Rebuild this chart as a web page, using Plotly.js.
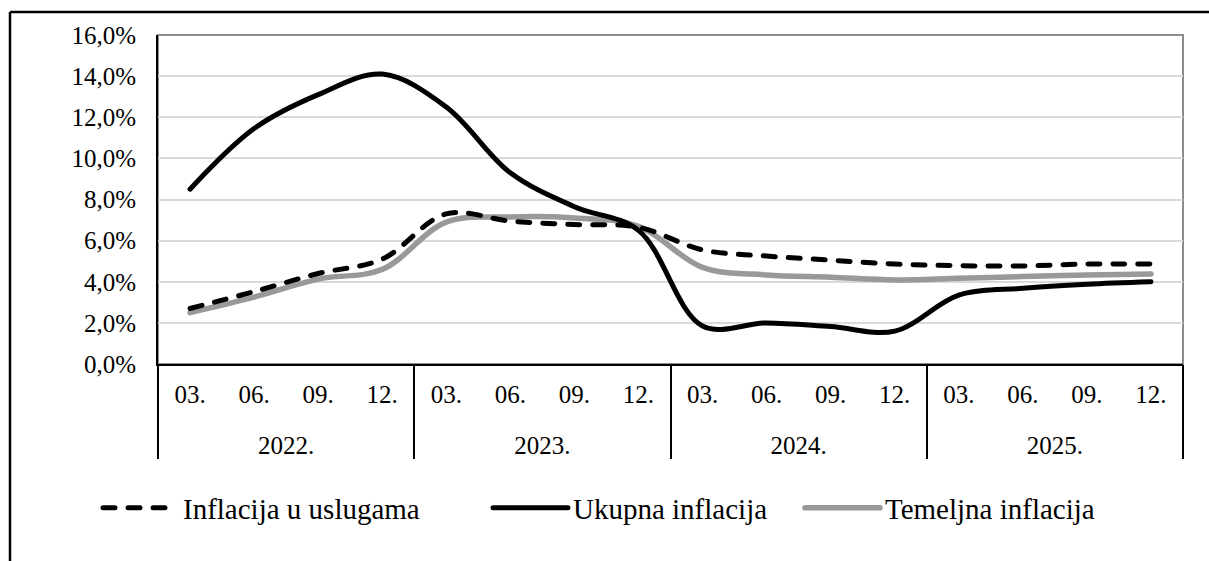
<!DOCTYPE html>
<html>
<head>
<meta charset="utf-8">
<script src="https://cdn.plot.ly/plotly-3.0.1.min.js"></script>
<style>
  html, body { margin: 0; padding: 0; background: #ffffff; }
  #chart { width: 1209px; height: 561px; }
  .js-line, .legendlines path { stroke-linecap: round; }
</style>
</head>
<body>
<div id="chart"></div>
<script>
// ---- data ----
var years = ["2022.", "2023.", "2024.", "2025."];
var months = ["03.", "06.", "09.", "12."];

var seriesNames = ["Inflacija u uslugama", "Ukupna inflacija", "Temeljna inflacija"];

var usluge   = [2.7, 3.52, 4.4, 5.1, 7.3, 6.95, 6.78, 6.65, 5.55, 5.25, 5.05, 4.86, 4.78, 4.77, 4.86, 4.86];
var ukupna   = [8.5, 11.45, 13.1, 14.1, 12.5, 9.3, 7.65, 6.5, 1.85, 2.0, 1.82, 1.6, 3.35, 3.68, 3.88, 4.0];
var temeljna = [2.5, 3.25, 4.13, 4.6, 6.9, 7.15, 7.1, 6.7, 4.7, 4.33, 4.22, 4.09, 4.17, 4.25, 4.33, 4.38];

// positions along the category axis, built from the label arrays
var xPos = [], monthText = [], yearPos = [], dividerPos = [];
for (var i = 0; i < years.length; i++) {
  dividerPos.push(i * months.length - 0.5);
  yearPos.push(i * months.length + (months.length - 1) / 2);
  for (var j = 0; j < months.length; j++) {
    xPos.push(i * months.length + j);
    monthText.push(months[j]);
  }
}
dividerPos.push(years.length * months.length - 0.5);
var xRange = [-0.5, years.length * months.length - 0.5];

var fontFam = '"Liberation Serif", "Times New Roman", Times, serif';

var traces = [
  {
    x: xPos, y: temeljna, name: seriesNames[2], type: "scatter", mode: "lines",
    line: { color: "#999999", width: 5.5, shape: "spline", smoothing: 1 },
    legend: "legend3", hoverinfo: "skip"
  },
  {
    x: xPos, y: usluge, name: seriesNames[0], type: "scatter", mode: "lines",
    line: { color: "#000000", width: 5, dash: "12px,13px", shape: "spline", smoothing: 1 },
    legend: "legend", hoverinfo: "skip"
  },
  {
    x: xPos, y: ukupna, name: seriesNames[1], type: "scatter", mode: "lines",
    line: { color: "#000000", width: 5, shape: "spline", smoothing: 1 },
    legend: "legend2", hoverinfo: "skip"
  },
  // invisible carriers so the year-label axis and the divider axis are drawn
  {
    x: xPos, y: ukupna, xaxis: "x2", type: "scatter", mode: "lines",
    line: { color: "rgba(0,0,0,0)", width: 0 }, showlegend: false, hoverinfo: "skip"
  },
  {
    x: xPos, y: ukupna, xaxis: "x3", type: "scatter", mode: "lines",
    line: { color: "rgba(0,0,0,0)", width: 0 }, showlegend: false, hoverinfo: "skip"
  }
];

var W = 1209, H = 561, L = 158, R = 26, T = 35, B = 197;
var pw = W - L - R, ph = H - T - B;
function px2x(px) { return (px - L) / pw; }
function py2y(py) { return (H - B - py) / ph; }

function legendAt(pxLeft) {
  return {
    orientation: "h", x: px2x(pxLeft), xanchor: "left",
    y: py2y(508), yanchor: "middle",
    font: { family: fontFam, size: 29, color: "#000000" }, itemwidth: 75, bgcolor: "rgba(0,0,0,0)",
    borderwidth: 0, itemclick: false, itemdoubleclick: false
  };
}

var tickFont = { family: fontFam, size: 25, color: "#000000" };

var layout = {
  width: W, height: H,
  margin: { l: L, r: R, t: T, b: B, pad: 0 },
  paper_bgcolor: "#ffffff",
  plot_bgcolor: "#ffffff",
  separators: ", ",
  font: { family: fontFam, size: 25, color: "#000000" },
  showlegend: true,
  legend: legendAt(98),
  legend2: legendAt(488),
  legend3: legendAt(800),
  xaxis: {
    type: "linear", range: xRange,
    tickmode: "array", tickvals: xPos, ticktext: monthText,
    showgrid: false, zeroline: false,
    showline: true, linecolor: "#000000", linewidth: 2,
    ticks: "", ticklabelstandoff: 7,
    tickfont: tickFont, fixedrange: true
  },
  xaxis2: {
    overlaying: "x", anchor: "y", side: "bottom",
    type: "linear", range: xRange,
    tickmode: "array", tickvals: yearPos, ticktext: years,
    showgrid: false, zeroline: false, showline: false,
    ticks: "", ticklabelstandoff: 64,
    tickfont: tickFont, fixedrange: true
  },
  xaxis3: {
    overlaying: "x", anchor: "y", side: "bottom",
    type: "linear", range: xRange,
    tickmode: "array", tickvals: dividerPos,
    showticklabels: false,
    showgrid: false, zeroline: false, showline: false,
    ticks: "outside", ticklen: 94, tickwidth: 2, tickcolor: "#000000",
    fixedrange: true
  },
  yaxis: {
    range: [0, 16], dtick: 2, tick0: 0,
    tickformat: ".1f", ticksuffix: "%",
    showgrid: true, gridcolor: "#d9d9d9", gridwidth: 2,
    showline: true, linecolor: "#000000", linewidth: 2,
    ticks: "", ticklabelstandoff: 15,
    tickfont: tickFont,
    zeroline: false, fixedrange: true
  },
  shapes: [
    { type: "rect", xref: "paper", yref: "paper", x0: 0, x1: 1, y0: 0, y1: 1,
      line: { color: "#8c8c8c", width: 2 }, layer: "below" },
    { type: "line", xref: "paper", yref: "paper",
      x0: px2x(10), x1: px2x(1230), y0: py2y(12), y1: py2y(12),
      line: { color: "#000000", width: 2.5 } },
    { type: "line", xref: "paper", yref: "paper",
      x0: px2x(10), x1: px2x(10), y0: py2y(12), y1: py2y(600),
      line: { color: "#000000", width: 2.5 } }
  ]
};

Plotly.newPlot("chart", traces, layout, { staticPlot: true, displayModeBar: false });
</script>
</body>
</html>
